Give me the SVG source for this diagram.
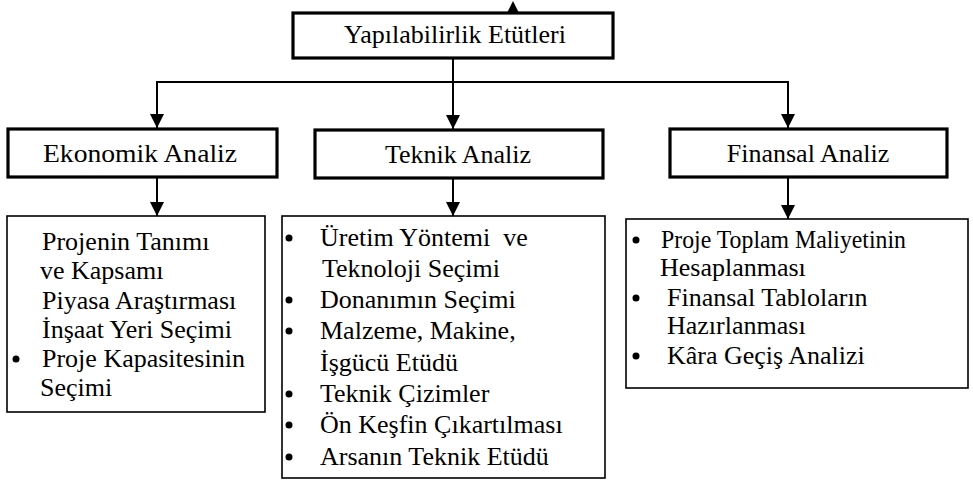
<svg xmlns="http://www.w3.org/2000/svg" width="973" height="483" viewBox="0 0 973 483">
<defs>
<style>
text{font-family:'Liberation Serif','Times New Roman',serif;font-size:26px;fill:#000;white-space:pre}
.h{text-anchor:middle}
.thick{fill:#fff;stroke:#000;stroke-width:3.2}
.thin{fill:#fff;stroke:#000;stroke-width:1.6}
.ln{fill:none;stroke:#000;stroke-width:2}
.b{fill:#000}
</style>
<marker id="ah" markerWidth="14" markerHeight="14" viewBox="0 0 14 14" refX="14" refY="7" orient="auto" markerUnits="userSpaceOnUse">
<path d="M0,0 L14,7 L0,14 Z" fill="#000"/>
</marker>
</defs>
<rect width="973" height="483" fill="#fff"/>
<g id="connectors">
<polygon points="507,13 513,1 519,13" fill="#000"/>
<polyline class="ln" points="157,128 157,82 788,82 788,128" marker-end="url(#ah)"/>
<line class="ln" x1="157" y1="82" x2="157" y2="128" marker-end="url(#ah)"/>
<line class="ln" x1="453" y1="58" x2="453" y2="129" marker-end="url(#ah)"/>
<line class="ln" x1="157" y1="177" x2="157" y2="216" marker-end="url(#ah)"/>
<line class="ln" x1="453" y1="178" x2="453" y2="216" marker-end="url(#ah)"/>
<line class="ln" x1="788" y1="177" x2="788" y2="219" marker-end="url(#ah)"/>
</g>
<g id="top">
<rect class="thick" x="293" y="13" width="320" height="45"/>
<text class="h" x="455" y="43">Yapılabilirlik Etütleri</text>
</g>
<g id="ekonomik">
<rect class="thick" x="8" y="129" width="269" height="48"/>
<text class="h" x="140" y="162" textLength="194" lengthAdjust="spacingAndGlyphs">Ekonomik Analiz</text>
</g>
<g id="teknik">
<rect class="thick" x="315" y="130" width="288" height="48"/>
<text class="h" x="458" y="163">Teknik Analiz</text>
</g>
<g id="finansal">
<rect class="thick" x="670" y="129" width="277" height="48"/>
<text class="h" x="808" y="162">Finansal Analiz</text>
</g>
<g id="ekonomik-list">
<rect class="thin" x="7" y="216" width="258" height="196"/>
<text x="42" y="250">Projenin Tanımı</text>
<text x="40" y="279">ve Kapsamı</text>
<text x="42" y="309">Piyasa Araştırması</text>
<text x="42" y="338">İnşaat Yeri Seçimi</text>
<circle class="b" cx="16" cy="359" r="3.5"/>
<text x="42" y="367">Proje Kapasitesinin</text>
<text x="40" y="396">Seçimi</text>
</g>
<g id="teknik-list">
<rect class="thin" x="282" y="216" width="323" height="262"/>
<circle class="b" cx="289" cy="238" r="3.5"/>
<text x="320" y="246">Üretim Yöntemi  ve</text>
<text x="322" y="277">Teknoloji Seçimi</text>
<circle class="b" cx="289" cy="300" r="3.5"/>
<text x="320" y="308">Donanımın Seçimi</text>
<circle class="b" cx="289" cy="331" r="3.5"/>
<text x="320" y="339">Malzeme, Makine,</text>
<text x="320" y="371">İşgücü Etüdü</text>
<circle class="b" cx="289" cy="394" r="3.5"/>
<text x="320" y="402">Teknik Çizimler</text>
<circle class="b" cx="289" cy="425" r="3.5"/>
<text x="320" y="433">Ön Keşfin Çıkartılması</text>
<circle class="b" cx="289" cy="457" r="3.5"/>
<text x="320" y="465">Arsanın Teknik Etüdü</text>
</g>
<g id="finansal-list">
<rect class="thin" x="626" y="219" width="342" height="169"/>
<circle class="b" cx="636" cy="240" r="3.5"/>
<text x="661" y="248" textLength="245" lengthAdjust="spacingAndGlyphs">Proje Toplam Maliyetinin</text>
<text x="660" y="276">Hesaplanması</text>
<circle class="b" cx="636" cy="298" r="3.5"/>
<text x="667" y="306">Finansal Tabloların</text>
<text x="667" y="334">Hazırlanması</text>
<circle class="b" cx="636" cy="356" r="3.5"/>
<text x="667" y="364">Kâra Geçiş Analizi</text>
</g>
</svg>
